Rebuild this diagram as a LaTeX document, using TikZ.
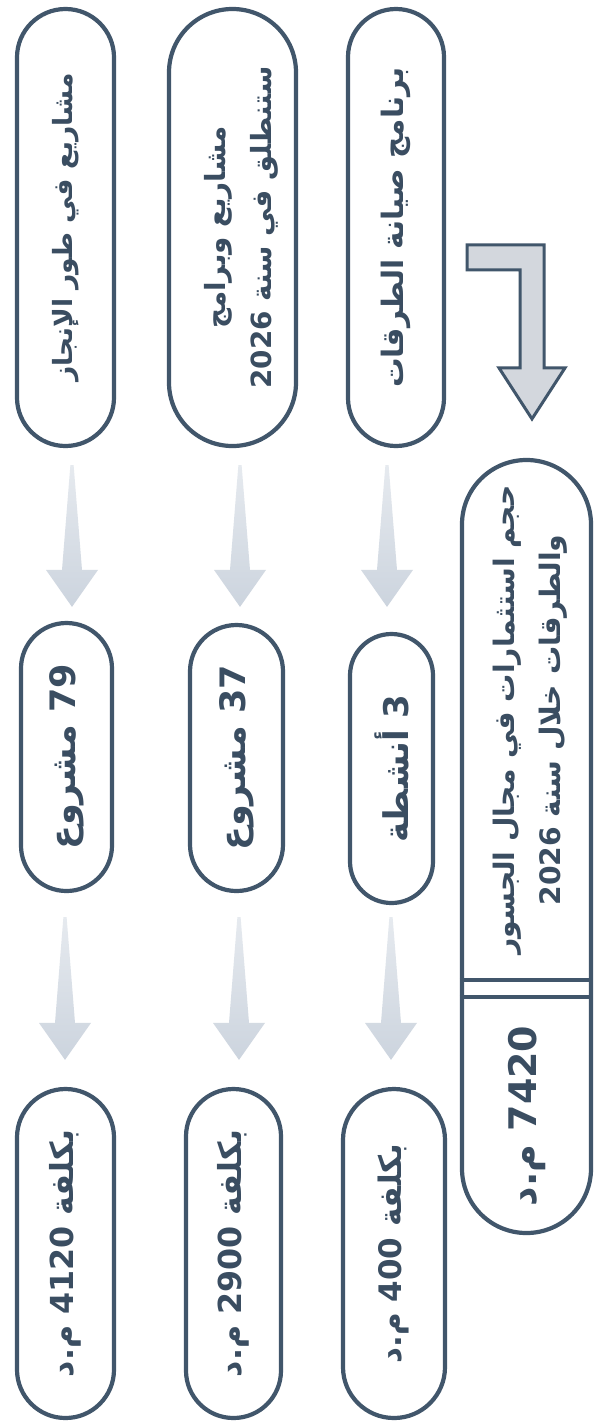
\documentclass[tikz,border=0pt]{standalone}
\usepackage{fontspec}
\usepackage{graphicx}
\TeXXeTstate=1
\newfontfamily\arabicfont[Script=Arabic]{DejaVu Sans}
\usetikzlibrary{calc}
\definecolor{bordc}{HTML}{41566B}
\definecolor{txtc}{HTML}{3A4D61}
\definecolor{arrlight}{HTML}{E6EAEF}
\definecolor{arrdark}{HTML}{CCD4DE}
\definecolor{lfill}{HTML}{D3D7DD}
\newcommand\rottext[1]{\rotatebox{90}{#1}}
\newcommand\shiftR[2]{\raisebox{#1}[\height][\depth]{#2}}
% tapered block arrow: from node, to node, x offset, start gap, tip gap
\newcommand\taperarrow[5]{%
  \shade[top color=arrlight, bottom color=arrdark]
    let \p1=($(#1.south)+(#3,0)$), \p2=(#2.north) in
    (\x1-1.6pt,\y1-#4pt) -- (\x1+1.6pt,\y1-#4pt) -- (\x1+10pt,\y2+#5pt+37pt)
    -- (\x1+26pt,\y2+#5pt+37pt) -- (\x1,\y2+#5pt) -- (\x1-26pt,\y2+#5pt+37pt)
    -- (\x1-10pt,\y2+#5pt+37pt) -- cycle;}
\begin{document}
\begin{tikzpicture}[x=1pt,y=-1pt,
  pill/.style n args={3}{draw=bordc, line width=4.2pt, fill=white, inner sep=0pt,
    minimum width=#1pt, minimum height=#2pt, rounded corners=#3pt, text=txtc},
  fs/.style={font=\arabicfont\bfseries\fontsize{#1}{46}\selectfont},
  txt/.style={inner sep=0pt, text=txtc},
  lshape/.style={draw=bordc, line width=3pt, fill=lfill, line join=miter}]
\useasboundingbox (0,0) rectangle (596,1428);
\fill[white] (0,0) rectangle (596,1428);
% row 1
\node[pill={97}{437}{48.4}, fs=26.5] (a1) at (65.5,227.5)
  {\rottext{\beginR مشاريع في طور الإنجاز\endR}};
\node[pill={127}{437}{63.4}, fs=27.8] (b1) at (232.5,227.5)
  {\rottext{\shiftR{-7pt}{\begin{tabular}{@{}c@{}}\beginR مشاريع وبرامج\endR\\
   \beginR ستنطلق في سنة \beginL 2026\endL{}\endR\end{tabular}}}};
\node[pill={96}{437}{47.9}, fs=29.5] (c1) at (396,227.5)
  {\rottext{\beginR برنامج صيانة الطرقات\endR}};
% row 2
\node[pill={91}{268}{45.4}, fs=35] (a2) at (66.5,757)
  {\rottext{\beginR\beginL 79\endL{} مشروع\endR}};
\node[pill={93}{266}{46.4}, fs=35] (b2) at (236.5,758)
  {\rottext{\beginR\beginL 37\endL{} مشروع\endR}};
\node[pill={83}{269}{41.4}, fs=34] (c2) at (391.5,768.5)
  {\rottext{\beginR\beginL 3\endL{} أنشطة\endR}};
% row 3
\node[pill={97}{329}{48.4}, fs=31.7] (a3) at (65.5,1253.5)
  {\rottext{\beginR بكلفة \beginL 4120\endL{} م.د\endR}};
\node[pill={95}{329}{47.4}, fs=31.7] (b3) at (233.5,1253.5)
  {\rottext{\beginR بكلفة \beginL 2900\endL{} م.د\endR}};
\node[pill={102}{329}{50.9}, fs=31] (c3) at (394,1253.5)
  {\rottext{\beginR بكلفة \beginL 400\endL{} م.د\endR}};
% total box
\node[pill={129}{773}{64.4}] (tot) at (526.5,846.5) {};
\coordinate (sepa) at (0,980);
\coordinate (sepb) at (0,997);
\draw[bordc, line width=4.2pt] (tot.west |- sepa) -- (tot.east |- sepa);
\draw[bordc, line width=4.2pt] (tot.west |- sepb) -- (tot.east |- sepb);
\node[txt, fs=28.2] (ttl) at (528,720)
  {\rottext{\begin{tabular}{@{}c@{}}\beginR حجم استثمارات في مجال الجسور\endR\\
   \beginR والطرقات خلال سنة \beginL 2026\endL{}\endR\end{tabular}}};
\node[txt, fs=38] (amt) at (527,1116)
  {\rottext{\beginR\beginL 7420\endL{} م.د\endR}};
% arrows
\taperarrow{a1}{a2}{6.5}{17}{14}
\taperarrow{b1}{b2}{7.5}{17}{16}
\taperarrow{c1}{c2}{-9}{17}{25}
\taperarrow{a2}{a3}{-1.5}{24}{27}
\taperarrow{b2}{b3}{2.5}{24}{27}
\taperarrow{c2}{c3}{-0.5}{12}{27}
% L-shaped arrow
\coordinate (lt) at ($(tot.north)+(5.5,-39)$);
\draw[lshape] ($(lt)+(-65,-174)$) -- ($(lt)+(12,-174)$) -- ($(lt)+(12,-51)$)
  -- ($(lt)+(33,-51)$) -- (lt) -- ($(lt)+(-33,-51)$) -- ($(lt)+(-12,-51)$)
  -- ($(lt)+(-12,-149)$) -- ($(lt)+(-65,-149)$) -- cycle;
\end{tikzpicture}
\end{document}
